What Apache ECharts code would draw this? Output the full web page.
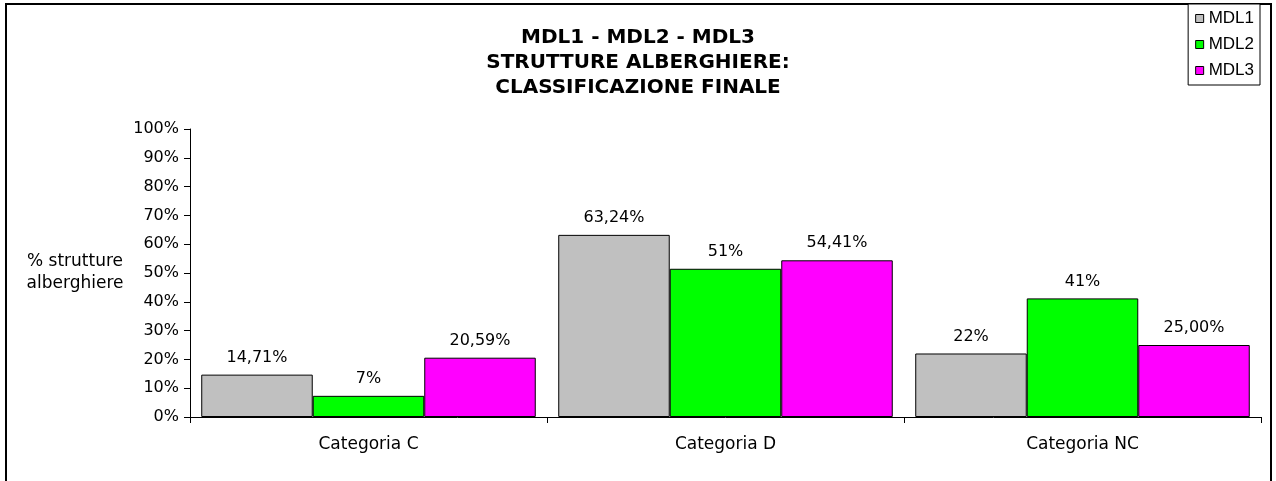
<!DOCTYPE html>
<html>
<head>
<meta charset="utf-8">
<script src="https://cdn.jsdelivr.net/npm/echarts@6/dist/echarts.min.js"></script>
<style>
html,body{margin:0;padding:0;background:#fff;}
#main{width:1276px;height:481px;}
</style>
</head>
<body>
<div id="main"></div>
<script>
var categorie = ['Categoria C', 'Categoria D', 'Categoria NC'];
var serie = ['MDL1', 'MDL2', 'MDL3'];
var mdl1 = [14.71, 63.24, 22.05];
var mdl2 = [7.35, 51.47, 41.18];
var mdl3 = [20.59, 54.41, 25.00];
// etichette come scritte nel grafico
var etichette1 = ['14,71%', '63,24%', '22%'];
var etichette2 = ['7%', '51%', '41%'];
var etichette3 = ['20,59%', '54,41%', '25,00%'];
var colori = ['#C0C0C0', '#00FF00', '#FF00FF'];

var myChart = echarts.init(document.getElementById('main'));

function serieBarre(nome, dati, etichette, colore){
    return {
        name: nome,
        type: 'bar',
        data: dati,
        barGap: '0%',
        barCategoryGap: '6.3%',
        itemStyle: {color: colore, borderColor: '#000', borderWidth: 1},
        label: {
            show: true,
            position: 'top',
            distance: 9,
            color: '#000',
            fontFamily: 'DejaVu Sans',
            fontSize: 16,
            formatter: function(p){ return etichette[p.dataIndex]; }
        }
    };
}

var option = {
    animation: false,
    backgroundColor: '#fff',
    title: {
        text: 'MDL1 - MDL2 - MDL3\nSTRUTTURE ALBERGHIERE:\nCLASSIFICAZIONE FINALE',
        left: 'center',
        top: 25,
        padding: 0,
        textStyle: {
            fontFamily: 'DejaVu Sans',
            fontWeight: 'bold',
            fontSize: 20,
            lineHeight: 25,
            color: '#000'
        }
    },
    legend: {
        orient: 'vertical',
        right: 16,
        top: 4,
        padding: [6, 6, 6, 7],
        itemGap: 9,
        itemWidth: 8,
        itemHeight: 8,
        itemTextGap: 5,
        icon: 'rect',
        borderColor: '#000',
        borderWidth: 1,
        borderRadius: 0,
        backgroundColor: '#fff',
        itemStyle: {borderColor: '#000', borderWidth: 1},
        textStyle: {fontFamily: 'Liberation Sans', fontSize: 17, color: '#000'},
        data: serie
    },
    grid: {left: 190, right: 15, top: 129, bottom: 64},
    xAxis: {
        type: 'category',
        data: categorie,
        axisLine: {lineStyle: {color: '#000', width: 1}},
        axisTick: {show: true, length: 6, lineStyle: {color: '#000'}},
        axisLabel: {color: '#000', fontFamily: 'DejaVu Sans', fontSize: 17, margin: 19}
    },
    yAxis: {
        type: 'value',
        min: 0,
        max: 100,
        interval: 10,
        name: '% strutture\nalberghiere',
        nameLocation: 'middle',
        nameRotate: 0,
        nameGap: 115,
        nameTextStyle: {color: '#000', fontFamily: 'DejaVu Sans', fontSize: 17, lineHeight: 22, align: 'center'},
        axisLine: {show: true, lineStyle: {color: '#000', width: 1}},
        axisTick: {show: true, length: 6, lineStyle: {color: '#000'}},
        axisLabel: {color: '#000', fontFamily: 'DejaVu Sans', fontSize: 16, margin: 11, formatter: '{value}%'},
        splitLine: {show: false}
    },
    graphic: [{
        type: 'rect',
        z: -10,
        shape: {x: 6, y: 4, width: 1265, height: 600},
        style: {fill: 'none', stroke: '#000', lineWidth: 2}
    }],
    series: [
        serieBarre(serie[0], mdl1, etichette1, colori[0]),
        serieBarre(serie[1], mdl2, etichette2, colori[1]),
        serieBarre(serie[2], mdl3, etichette3, colori[2])
    ]
};

myChart.setOption(option);
</script>
</body>
</html>
